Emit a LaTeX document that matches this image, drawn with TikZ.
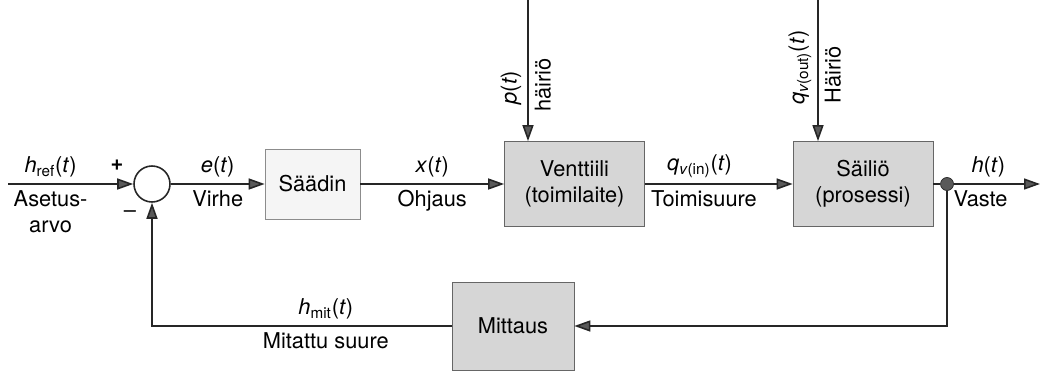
\documentclass[tikz,border=0pt]{standalone}
\usepackage{fontspec}
\setmainfont{TeX Gyre Heros}
\usetikzlibrary{arrows.meta,positioning}

\begin{document}
\begin{tikzpicture}[
  font=\fontsize{12.4}{15}\selectfont,
  lohko/.style={rectangle, draw=black!60, fill=black!16, minimum height=1.7cm, minimum width=2.8cm, align=center, inner sep=2pt},
  signaali/.style={draw=black!85, line width=0.9pt, -{Triangle[length=0.32cm, width=0.22cm, fill=black!65]}},
  ]
  \useasboundingbox (0, 0) rectangle (20.9, 7.44);
  % Nodes
  \coordinate (input) at (0.16, 3.76);
  \node (sum) [circle, draw=black!85, line width=0.9pt, minimum size=0.72cm, inner sep=0pt] at (3.04, 3.76) {};
  \node (saadin) [lohko, draw=black!45, fill=black!4, minimum width=1.9cm, minimum height=1.4cm] at (6.25, 3.76) {Säädin};
  \node (venttiili) [lohko] at (11.49, 3.76) {Venttiili\\(toimilaite)};
  \node (sailio) [lohko] at (17.26, 3.76) {Säiliö\\(prosessi)};
  \node (mittaus) [lohko, minimum width=2.44cm, minimum height=1.76cm] at (10.26, 0.92) {Mittaus};
  \node (haara) [circle, draw=black!85, fill=black!65, minimum size=0.26cm, inner sep=0pt] at (18.94, 3.76) {};
  \coordinate (output) at (20.8, 3.76);
  \coordinate (p-top) at (10.56, 7.44);
  \coordinate (q-top) at (16.36, 7.44);
  % Signs
  \node (plus) [font=\fontsize{12.4}{15}\selectfont\bfseries] at ([xshift=-0.7cm, yshift=0.38cm]sum) {+};
  \node (minus) at ([xshift=-0.44cm, yshift=-0.6cm]sum) {--};
  % Arrow
  \draw[signaali] (input) -- node[pos=0.34, above] {\textit{h}\textsubscript{ref}(\textit{t})} node[pos=0.34, below, align=center] {Asetus-\\arvo} (sum);
  \draw[signaali] (sum) -- node[midway, above] {\textit{e}(\textit{t})} node[midway, below] {Virhe} (saadin);
  \draw[signaali] (saadin) -- node[midway, above] {\textit{x}(\textit{t})} node[midway, below] {Ohjaus} (venttiili);
  \draw[signaali] (venttiili) -- node[pos=0.37, above] {\textit{q}\textsubscript{\textit{v}(in)}(\textit{t})} node[pos=0.4, below] {Toimisuure} (sailio);
  \draw[line width=0.9pt, draw=black!85] (sailio) -- (haara);
  \draw[signaali] (haara) -- node[pos=0.4, above] {\textit{h}(\textit{t})} node[pos=0.31, below] {Vaste} (output);
  \draw[signaali] (p-top) -- node[pos=0.62, rotate=90, above] {\textit{p}(\textit{t})} node[pos=0.6, rotate=90, below] {häiriö} (p-top |- venttiili.north);
  \draw[signaali] (q-top) -- node[pos=0.48, rotate=90, above] {\textit{q}\textsubscript{\textit{v}(out)}(\textit{t})} node[pos=0.53, rotate=90, below] {Häiriö} (q-top |- sailio.north);
  \draw[signaali] (haara) |- (mittaus);
  \draw[signaali] (mittaus) -| node[pos=0.21, above] {\textit{h}\textsubscript{mit}(\textit{t})} node[pos=0.21, below] {Mitattu suure} (sum);
\end{tikzpicture}
\end{document}
